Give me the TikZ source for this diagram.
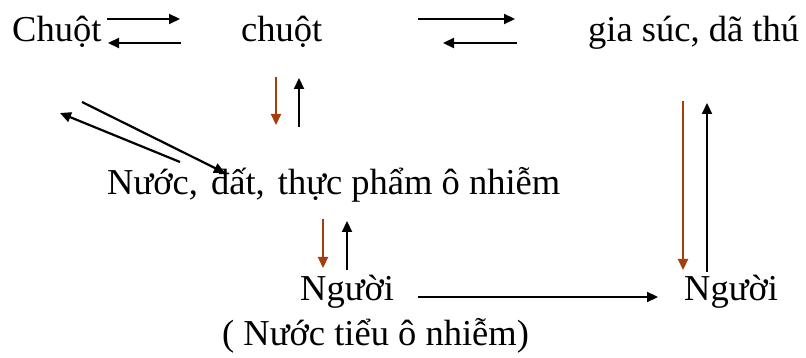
\documentclass[tikz,border=0pt]{standalone}
\usepackage{fontspec}
\setmainfont{Liberation Serif}
\usetikzlibrary{arrows.meta}
\definecolor{rustbrown}{RGB}{165,62,12}

\begin{document}
\begin{tikzpicture}[x=1pt, y=-1pt,
    lbl/.style={anchor=base west, inner sep=0pt, font=\fontsize{36.5}{40}\selectfont},
    arr/.style={line width=2.2pt, -{Triangle[length=11pt,width=10pt]}},
    arrbr/.style={arr, draw=rustbrown, fill=rustbrown}]
  \useasboundingbox (0,0) rectangle (806,358);
  % labels, placed by baseline (pixel coordinates)
  \node[lbl] (chuot1)   at (12,42)   {Chuột};
  \node[lbl] (chuot2)   at (241,42)  {chuột};
  \node[lbl] (giasuc)   at (588,42)  {gia súc, dã thú};
  \node[lbl] (nuoc)     at (107,195) {Nước,\hspace{4pt} đất,\hspace{4pt} thực phẩm ô nhiễm};
  \node[lbl] (nguoi1)   at (300,300) {Người};
  \node[lbl] (nguoi2)   at (684,300) {Người};
  \node[lbl] (nuoctieu) at (222,345) {( Nước tiểu ô nhiễm)};
  % top row, paired arrows
  \draw[arr] ([xshift=95pt,yshift=23pt]chuot1.base west) -- ([xshift=-61pt,yshift=23pt]chuot2.base west);
  \draw[arr] ([xshift=-60pt,yshift=-1pt]chuot2.base west) -- ([xshift=96pt,yshift=-1pt]chuot1.base west);
  \draw[arr] ([xshift=177pt,yshift=23pt]chuot2.base west) -- ([xshift=-73pt,yshift=23pt]giasuc.base west);
  \draw[arr] ([xshift=-71pt,yshift=-1pt]giasuc.base west) -- ([xshift=202pt,yshift=-1pt]chuot2.base west);
  % chuot <-> nuoc
  \draw[arrbr] ([xshift=35pt,yshift=-35pt]chuot2.base west) -- ([xshift=169pt,yshift=70pt]nuoc.base west);
  \draw[arr] ([xshift=192pt,yshift=68pt]nuoc.base west) -- ([xshift=58pt,yshift=-36pt]chuot2.base west);
  % Chuot <-> nuoc (diagonal)
  \draw[arr] ([xshift=70pt,yshift=-60pt]chuot1.base west) -- ([xshift=118pt,yshift=22pt]nuoc.base west);
  \draw[arr] ([xshift=73pt,yshift=33pt]nuoc.base west) -- ([xshift=48pt,yshift=-71pt]chuot1.base west);
  % nuoc <-> nguoi
  \draw[arrbr] ([xshift=216pt,yshift=-24pt]nuoc.base west) -- ([xshift=23pt,yshift=32pt]nguoi1.base west);
  \draw[arr] ([xshift=47pt,yshift=30pt]nguoi1.base west) -- ([xshift=240pt,yshift=-26pt]nuoc.base west);
  % nguoi -> nguoi
  \draw[arr] ([xshift=118pt,yshift=3pt]nguoi1.base west) -- ([xshift=-26pt,yshift=3pt]nguoi2.base west);
  % gia suc <-> nguoi
  \draw[arrbr] ([xshift=95pt,yshift=-59pt]giasuc.base west) -- ([xshift=-1pt,yshift=30pt]nguoi2.base west);
  \draw[arr] ([xshift=23pt,yshift=28pt]nguoi2.base west) -- ([xshift=119pt,yshift=-61pt]giasuc.base west);
\end{tikzpicture}
\end{document}
